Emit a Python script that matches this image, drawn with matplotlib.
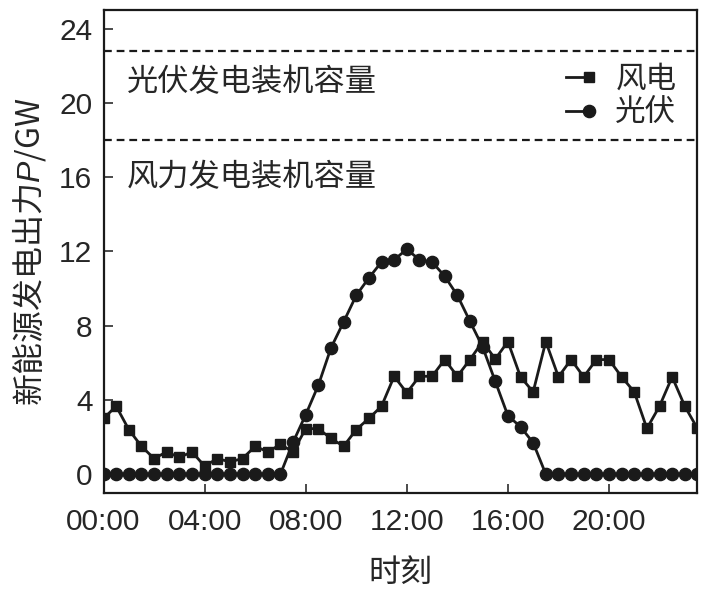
import matplotlib
matplotlib.use('Agg')
import matplotlib.pyplot as plt
from matplotlib.lines import Line2D
from matplotlib.legend_handler import HandlerBase

plt.rcParams['font.family'] = ['Liberation Sans', 'Noto Sans CJK SC', 'DejaVu Sans']
plt.rcParams['mathtext.fontset'] = 'custom'
plt.rcParams['mathtext.it'] = 'Liberation Sans:italic'
plt.rcParams['mathtext.rm'] = 'Liberation Sans'

# ---- data ----
hours = [0, 0.5, 1, 1.5, 2, 2.5, 3, 3.5, 4, 4.5, 5, 5.5, 6, 6.5, 7, 7.5,
         8, 8.5, 9, 9.5, 10, 10.5, 11, 11.5, 12, 12.5, 13, 13.5, 14, 14.5,
         15, 15.5, 16, 16.5, 17, 17.5, 18, 18.5, 19, 19.5, 20, 20.5, 21,
         21.5, 22, 22.5, 23, 23.5]
wind = [3.0, 3.66, 2.4, 1.5, 0.84, 1.2, 0.9, 1.2, 0.43, 0.84, 0.66, 0.84, 1.5,
        1.2, 1.6, 1.2, 2.45, 2.45, 1.92, 1.5, 2.4, 3.0, 3.66, 5.27, 4.38, 5.27,
        5.27, 6.17, 5.27, 6.17, 7.14, 6.2, 7.14, 5.24, 4.43, 7.14, 5.24, 6.17,
        5.24, 6.17, 6.17, 5.24, 4.43, 2.46, 3.66, 5.24, 3.66, 2.46]
solar = [0, 0, 0, 0, 0, 0, 0, 0, 0, 0, 0, 0, 0, 0, 0, 1.72, 3.2, 4.79, 6.8,
         8.2, 9.63, 10.57, 11.43, 11.55, 12.11, 11.55, 11.43, 10.66, 9.63,
         8.23, 6.85, 5.0, 3.15, 2.55, 1.69, 0, 0, 0, 0, 0, 0, 0, 0, 0, 0, 0, 0, 0]
pv_capacity = 22.8
wind_capacity = 18.0
pv_cap_label = '光伏发电装机容量'
wind_cap_label = '风力发电装机容量'
series_labels = ['风电', '光伏']
xtick_vals = [0, 4, 8, 12, 16, 20]
xtick_labels = ['00:00', '04:00', '08:00', '12:00', '16:00', '20:00']
ytick_vals = [0, 4, 8, 12, 16, 20, 24]

cjk = ['Noto Sans CJK SC', 'DejaVu Sans']
col = '#1a1a1a'
tcol = '#262626'


class EndMarkerHandler(HandlerBase):
    def create_artists(self, legend, orig, xdescent, ydescent, width, height,
                       fontsize, trans):
        y = height / 2 - ydescent
        line = Line2D([-xdescent, width - xdescent], [y, y],
                      color=orig.get_color(), lw=orig.get_linewidth(),
                      transform=trans)
        mk = Line2D([width - xdescent], [y], ls='none',
                    marker=orig.get_marker(), ms=orig.get_markersize(),
                    color=orig.get_color(), transform=trans)
        return [line, mk]


fig = plt.figure(figsize=(7.19, 5.89), dpi=100)
ax = fig.add_axes([0.144, 0.1635, 0.826, 0.8195])

l1, = ax.plot(hours, wind, color=col, lw=2.0, marker='s', ms=7.5, zorder=3)
l2, = ax.plot(hours, solar, color=col, lw=2.0, marker='o', ms=8.8, zorder=3)

ax.axhline(pv_capacity, color=col, lw=1.6, ls=(0, (3.5, 2.2)))
ax.axhline(wind_capacity, color=col, lw=1.6, ls=(0, (3.5, 2.2)))

ax.text(0.93, 21.1, pv_cap_label, fontsize=22.5, family=cjk, color=tcol,
        va='center', ha='left')
ax.text(0.93, 16.0, wind_cap_label, fontsize=22.5, family=cjk, color=tcol,
        va='center', ha='left')

ax.set_xlim(0, 23.5)
ax.set_ylim(-1, 25)
ax.set_xticks(xtick_vals)
ax.set_xticklabels(xtick_labels)
ax.set_yticks(ytick_vals)
ax.tick_params(axis='both', direction='in', length=6.5, width=1.1,
               labelsize=21.5, pad=8, colors=col, labelcolor=tcol)
ax.tick_params(axis='x', pad=11, top=False)
ax.tick_params(axis='y', right=False)
for s in ax.spines.values():
    s.set_linewidth(1.6)
    s.set_color(col)

ax.set_xlabel('时刻', fontsize=23, family=cjk, color=tcol, labelpad=15)
ax.set_ylabel('新能源发电出力$\\mathit{P}$/GW', fontsize=23, family=cjk,
              color=tcol, labelpad=8)

leg = ax.legend([l1, l2], series_labels, loc='upper right', frameon=False,
                handler_map={Line2D: EndMarkerHandler()},
                handlelength=0.75, handletextpad=0.85,
                labelspacing=0.12, prop={'family': cjk, 'size': 22},
                bbox_to_anchor=(0.985, 0.915), borderaxespad=0)
for t in leg.get_texts():
    t.set_color(tcol)

fig.savefig('out.png', dpi=100)
